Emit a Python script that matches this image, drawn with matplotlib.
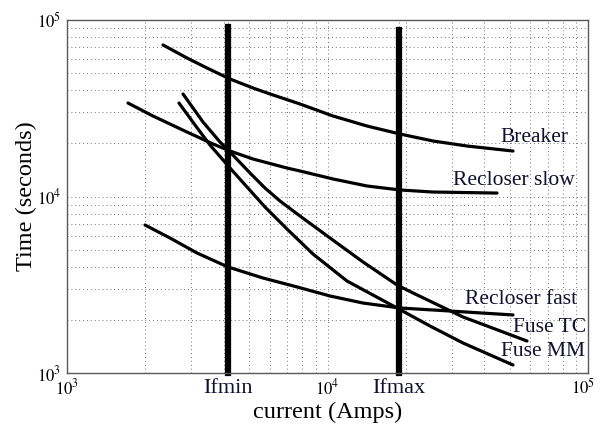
import matplotlib
matplotlib.use("Agg")
import matplotlib.pyplot as plt
from matplotlib.ticker import FixedLocator, NullFormatter

plt.rcParams['font.family'] = ['Liberation Serif', 'DejaVu Serif']
plt.rcParams['mathtext.fontset'] = 'stix'

# corrente (A) e tempo (s) de cada curva de protecao
breaker_i = [2336, 2888, 3446, 4224, 5176, 6015, 7842, 10498, 14180, 18980, 25410, 34320, 51540]
breaker_t = [72190, 60920, 53460, 46320, 41180, 38100, 33430, 28580, 25080, 22600, 20630, 19320, 18100]

rec_slow_i = [1714, 2138, 2888, 3635, 4224, 5176, 6989, 7842, 10498, 14180, 18980, 25410, 44740]
rec_slow_t = [33860, 28580, 23190, 19840, 18100, 16310, 14500, 13950, 12570, 11470, 10890, 10600, 10460]

rec_fast_i = [1993, 2485, 3155, 4150, 5654, 7636, 10222, 13689, 18980, 29530, 51540]
rec_fast_t = [6893, 5821, 4786, 3987, 3453, 3074, 2731, 2491, 2335, 2245, 2132]

fuse_tc_i = [2788, 3327, 3867, 4224, 5040, 5755, 6572, 7842, 10222, 13689, 18490, 21290, 33130, 58320]
fuse_tc_t = [38100, 26430, 20360, 17870, 13590, 11170, 9430, 7753, 5821, 4256, 3153, 2841, 2077, 1518]

fuse_mm_i = [2691, 3100, 3539, 4224, 4909, 5755, 6989, 8797, 11882, 18490, 24750, 33130, 51540]
fuse_mm_t = [33860, 25420, 19580, 14500, 11320, 8720, 6545, 4722, 3320, 2335, 1846, 1479, 1110]

# limites da corrente de falta
ifmin = 4150
ifmax = 18800
if_top = [91000, 88000]

xtick_vals = [1e3, ifmin, 1e4, ifmax, 1e5]
xtick_labels = ['$10^3$', 'Ifmin', '$10^4$', 'Ifmax', '']

curves = [
    (breaker_i, breaker_t),
    (rec_slow_i, rec_slow_t),
    (rec_fast_i, rec_fast_t),
    (fuse_tc_i, fuse_tc_t),
    (fuse_mm_i, fuse_mm_t),
]
curve_names = ['Breaker', 'Recloser slow', 'Recloser fast', 'Fuse TC', 'Fuse MM']
label_pos = [(534, 137), (514, 180), (521, 300), (550, 327), (543, 351)]

fig = plt.figure(figsize=(5.96, 4.32), dpi=100)
ax = fig.add_axes([67 / 596, 1 - 373 / 432, 521 / 596, 353 / 432])
ax.set_xscale('log')
ax.set_yscale('log')
ax.set_xlim(1e3, 1e5)
ax.set_ylim(1e3, 1e5)

ax.grid(True, which='both', color='0.45', linestyle=(0, (1, 3)), linewidth=0.7)

for ci, ct in curves:
    ax.plot(ci, ct, 'k-', lw=2.3, solid_capstyle='round', solid_joinstyle='round')

ax.plot([ifmin, ifmin], [1e3, if_top[0]], 'k-', lw=4.5, clip_on=False)
ax.plot([ifmax, ifmax], [1e3, if_top[1]], 'k-', lw=4.5, clip_on=False)

# rotulos das curvas (posicao em pixels da figura)
for name, (px, py) in zip(curve_names, label_pos):
    fig.text(px / 596, 1 - py / 432, name, ha='center', va='center',
             fontsize=15.5, color='#101030')

ax.xaxis.set_major_locator(FixedLocator(xtick_vals))
ax.set_xticklabels(xtick_labels)
ax.xaxis.set_minor_formatter(NullFormatter())
ax.set_yticks([1e3, 1e4, 1e5])
ax.set_yticklabels(['$10^3$', '$10^4$', '$10^5$'])
ax.yaxis.set_minor_formatter(NullFormatter())
for lab in ax.get_xticklabels():
    if lab.get_text() in ('Ifmin', 'Ifmax'):
        lab.set_fontsize(16)
        lab.set_color('#101030')
    else:
        lab.set_fontsize(12)
for lab in ax.get_yticklabels():
    lab.set_fontsize(12)

# o rotulo 10^5 do eixo x fica encostado na borda direita da figura
ax.annotate('$10^5$', xy=(1e5, 0), xycoords=('data', 'axes fraction'),
            xytext=(7, -5), textcoords='offset pixels',
            ha='right', va='top', fontsize=12)

ax.tick_params(which='both', direction='in', length=0, pad=4)
for s in ax.spines.values():
    s.set_color('0.35')
    s.set_linewidth(1.0)

ax.set_xlabel('current (Amps)', fontsize=17.5, labelpad=2)
ax.set_ylabel('Time (seconds)', fontsize=17.5, labelpad=0)

fig.savefig('out.png', dpi=100)
